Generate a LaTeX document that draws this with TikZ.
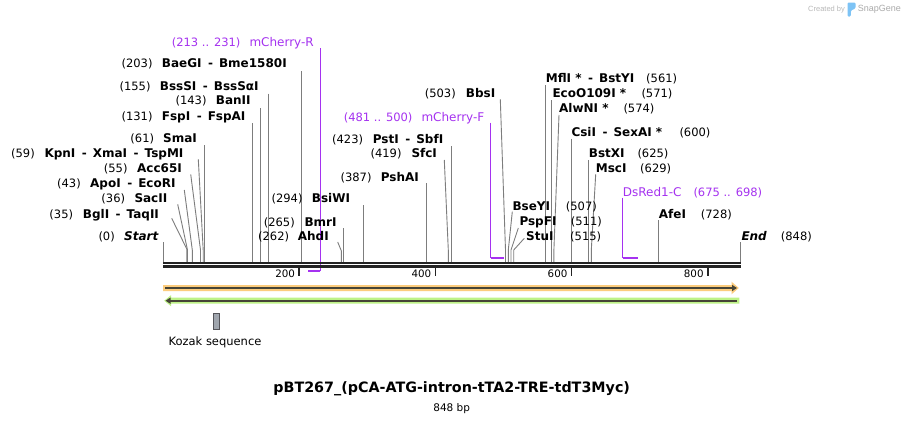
\documentclass[tikz,border=0pt]{standalone}
\usepackage{fontspec}
\setmainfont{DejaVu Sans}
\newfontfamily\wmfont{Liberation Sans}
\usetikzlibrary{arrows.meta}
\definecolor{primer}{RGB}{165,50,240}
\definecolor{siteg}{RGB}{125,125,125}
\definecolor{bb}{RGB}{35,35,35}
\definecolor{orfill}{RGB}{252,204,125}
\definecolor{grfill}{RGB}{190,242,135}
\definecolor{featline}{RGB}{70,68,55}
\definecolor{kozfill}{RGB}{160,166,174}
\definecolor{wmgray}{RGB}{185,185,185}
\definecolor{logoblue}{RGB}{125,195,245}
\newcommand\fnum{\fontsize{11.5}{13}\selectfont}
\newcommand\fname{\fontsize{12}{14}\selectfont\bfseries}
\newcommand\dsh{\hspace{6.5pt}-\hspace{6pt}}
\newcommand\labL[6]{\node[numtxt,anchor=base east] (#1n) at (#3,#2) {(#6)};\node[nametxt,anchor=base west] (#1e) at (#4,#2) {#5};}
\newcommand\labR[6]{\node[nametxt,anchor=base west] (#1e) at (#3,#2) {#5};\node[numtxt,anchor=base west] (#1n) at (#4,#2) {(#6)};}
\newcommand\siteV[3]{\coordinate (#1t) at (#2,#3);\coordinate (#1s) at (#2,262);\draw[siteline] (#1t) -- (#1s);}
\newcommand\siteS[5]{\coordinate (#1t) at (#2,#3);\coordinate (#1k) at (#4,#5);\coordinate (#1s) at (#4,262);\draw[siteline] (#1t) -- (#1k) -- (#1s);}
\begin{document}
\begin{tikzpicture}[x=1pt,y=-1pt,
 numtxt/.style={font=\fnum, inner sep=0pt},
 nametxt/.style={font=\fname, inner sep=0pt},
 primtxt/.style={font=\fontsize{12}{14}\selectfont, text=primer, inner sep=0pt},
 primnum/.style={font=\fnum, text=primer, inner sep=0pt},
 siteline/.style={draw=siteg, line width=0.9pt},
 primline/.style={draw=primer, line width=1.2pt},
 primbar/.style={draw=primer, line width=2.2pt},
 ticklab/.style={font=\fontsize{10.3}{12}\selectfont, inner sep=0pt, anchor=base east},
 tickline/.style={draw=bb, line width=1.6pt},
 bbline/.style={draw=bb, line width=2.3pt},
 featarrow/.style={draw=featline, line width=1.6pt, -{Triangle[length=5pt,width=6pt]}},
 ]
\useasboundingbox (0,0) rectangle (905,424);
\fill[white] (0,0) rectangle (905,424);

% --- cut-site connectors ---
\siteV{start}{163}{242}
\siteS{bgl}{171.7}{218.3}{186.8}{249}
\siteS{sac}{177.7}{204.3}{187.5}{250}
\siteS{apo}{184.3}{190}{192.3}{250}
\siteS{acc}{190.7}{174.3}{200.5}{250}
\siteS{kpn}{198.3}{159.3}{203.2}{250}
\siteV{sma}{204.5}{145}
\siteV{fsp}{252.2}{123}
\siteV{ban}{260.4}{108}
\siteV{bss}{268.6}{93.5}
\siteV{bae}{301.2}{71}
\siteS{ahd}{337.7}{242}{341.4}{251}
\siteV{bmr}{343.5}{228}
\siteV{bsi}{363.2}{205}
\siteV{psh}{426.5}{183.3}
\siteS{sfc}{444.3}{160}{448.3}{250}
\siteV{pst}{451.1}{146}
\siteS{bbs}{500.3}{99.3}{505.5}{250}
\siteS{bse}{512.3}{211.7}{508.3}{250}
\siteS{psp}{518.3}{228}{511}{250}
\siteS{stu}{524.3}{238.3}{513.7}{250}
\siteV{mfl}{545}{85}
\siteV{eco}{551.9}{100}
\siteS{alw}{559}{115}{553.9}{250}
\siteV{csi}{571.6}{138.7}
\siteV{bstx}{588.6}{160}
\siteS{msc}{595.7}{174.3}{591.3}{250}
\siteV{afe}{658.8}{220}
\siteV{end}{740.5}{242}

% --- primers ---
\coordinate (mrt) at (320.3,48.3); \coordinate (mrb) at (320.3,271.2); \coordinate (mrl) at (308.1,271.2);
\draw[primline] (mrt) -- (mrb);
\draw[primbar] (mrb) -- (mrl);
\coordinate (mft) at (490.6,122.7); \coordinate (mfb) at (490.6,257.7); \coordinate (mfr) at (503.5,257.7);
\draw[primline] (mft) -- (mfb);
\draw[primbar] (mfb) -- (mfr);
\coordinate (dst) at (622.7,197.7); \coordinate (dsb) at (622.7,257.7); \coordinate (dsr) at (638.3,257.7);
\draw[primline] (dst) -- (dsb);
\draw[primbar] (dsb) -- (dsr);

% --- backbone ---
\coordinate (b0) at (163,262.8); \coordinate (b1) at (740.5,262.8);
\coordinate (c0) at (163,266.5); \coordinate (c1) at (740.5,266.5);
\draw[bbline] (b0) -- (b1);
\draw[bbline] (c0) -- (c1);
\foreach \v/\x in {200/299.2,400/435.4,600/571.6,800/707.8}{
  \coordinate (t\v a) at (\x,267.5); \coordinate (t\v b) at (\x,275.5);
  \draw[tickline] (t\v a) -- (t\v b);
  \node[ticklab] (tl\v) at (\x-4,277) {\v};
}

% --- labels, left of site ---
\labL{start}{240.7}{115}{124}{\textit{Start}}{0}
\labL{bgl}{218}{73.3}{82.7}{BglI\dsh TaqII}{35}
\labL{sac}{202.7}{125.3}{134.3}{SacII}{36}
\labL{apo}{187.7}{81}{90}{ApoI\dsh EcoRI}{43}
\labL{acc}{172.7}{127.7}{137}{Acc65I}{55}
\labL{kpn}{157.3}{35}{44.3}{KpnI\dsh XmaI\dsh TspMI}{59}
\labL{sma}{142.7}{154.3}{163}{SmaI}{61}
\labL{fsp}{120.7}{152.7}{161.7}{FspI\dsh FspAI}{131}
\labL{ban}{104.7}{206.7}{215.7}{BanII}{143}
\labL{bss}{90.7}{150.7}{159.7}{BssSI\dsh BssSαI}{155}
\labL{bae}{67.3}{152.7}{161.7}{BaeGI\dsh Bme1580I}{203}
\labL{ahd}{240.7}{289.3}{297.7}{AhdI}{262}
\labL{bmr}{226}{295}{304.3}{BmrI}{265}
\labL{bsi}{202.7}{302.7}{311.7}{BsiWI}{294}
\labL{psh}{181}{371.7}{380.7}{PshAI}{387}
\labL{sfc}{157.7}{401.7}{411.3}{SfcI}{419}
\labL{pst}{143.3}{363.3}{372.7}{PstI\dsh SbfI}{423}
\labL{bbs}{97.7}{456}{465.7}{BbsI}{503}

% --- labels, right of site ---
\labR{mfl}{82.7}{545.7}{646}{MflI~*\dsh BstYI}{561}
\labR{eco}{97.7}{552.3}{641.3}{EcoO109I~*}{571}
\labR{alw}{112.7}{559}{623.3}{AlwNI~*}{574}
\labR{csi}{136}{571.3}{679.3}{CsiI\dsh SexAI~*}{600}
\labR{bstx}{157.7}{588.7}{637.3}{BstXI}{625}
\labR{msc}{172.7}{595.7}{640}{MscI}{629}
\labR{afe}{218.3}{658.7}{700.7}{AfeI}{728}
\labR{end}{240.7}{741.3}{780.7}{\textit{End}}{848}
\labR{bse}{210.7}{512.3}{565.7}{BseYI}{507}
\labR{psp}{225.7}{519.3}{570.7}{PspFI}{511}
\labR{stu}{240.7}{526}{570}{StuI}{515}

% --- primer labels ---
\node[primnum,anchor=base east] (mrn) at (240.7,46) {(213 .. 231)};
\node[primtxt,anchor=base west] (mre) at (249.3,46) {mCherry-R};
\node[primnum,anchor=base east] (mfn) at (412.7,121) {(481 .. 500)};
\node[primtxt,anchor=base west] (mfe) at (421.3,121) {mCherry-F};
\node[primtxt,anchor=base west] (dse) at (622.7,196) {DsRed1-C};
\node[primnum,anchor=base west] (dsn) at (693.3,196) {(675 .. 698)};

% --- features ---
\fill[orfill] (163,285) -- (731.5,285) -- (731.5,281.7) -- (738.8,288) -- (731.5,294.3) -- (731.5,291) -- (163,291) -- cycle;
\coordinate (fo0) at (165,288); \coordinate (fo1) at (737,288);
\draw[featarrow] (fo0) -- (fo1);
\fill[grfill] (739.3,297.7) -- (171,297.7) -- (171,295.2) -- (164.2,300.7) -- (171,306.2) -- (171,303.7) -- (739.3,303.7) -- cycle;
\coordinate (fg0) at (737,300.7); \coordinate (fg1) at (165.5,300.7);
\draw[featarrow] (fg0) -- (fg1);

% --- Kozak ---
\node[draw={rgb,255:red,85;green,85;blue,90}, fill=kozfill, line width=0.8pt, minimum width=6pt, minimum height=16pt, inner sep=0pt] (koz) at (216.3,321.3) {};
\node[font=\fontsize{11.5}{13}\selectfont, inner sep=0pt, anchor=base] (kozl) at (215,345.7) {Kozak sequence};

% --- title ---
\node[font=\fontsize{14.3}{16}\selectfont\bfseries, inner sep=0pt, anchor=base] (title) at (451.7,392) {pBT267\_(pCA-ATG-intron-tTA2-TRE-tdT3Myc)};
\node[font=\fontsize{10.5}{12}\selectfont, inner sep=0pt, anchor=base] (bp) at (451.7,411.7) {848 bp};

% --- watermark ---
\node[font=\wmfont\fontsize{7.5}{9}\selectfont, text=wmgray, inner sep=0pt, anchor=base west] (wm1) at (808,11) {Created by};
\fill[logoblue, rounded corners=1.2pt] (847.5,16.5) -- (847.5,2.5) -- (855.5,2.5) -- (855.5,8.5) -- (850.8,10.5) -- (850.8,16.5) -- cycle;
\node[font=\wmfont\fontsize{9}{11}\selectfont, text={rgb,255:red,170;green,170;blue,170}, inner sep=0pt, anchor=base west] (wm2) at (857.7,11.5) {SnapGene};
\end{tikzpicture}
\end{document}
